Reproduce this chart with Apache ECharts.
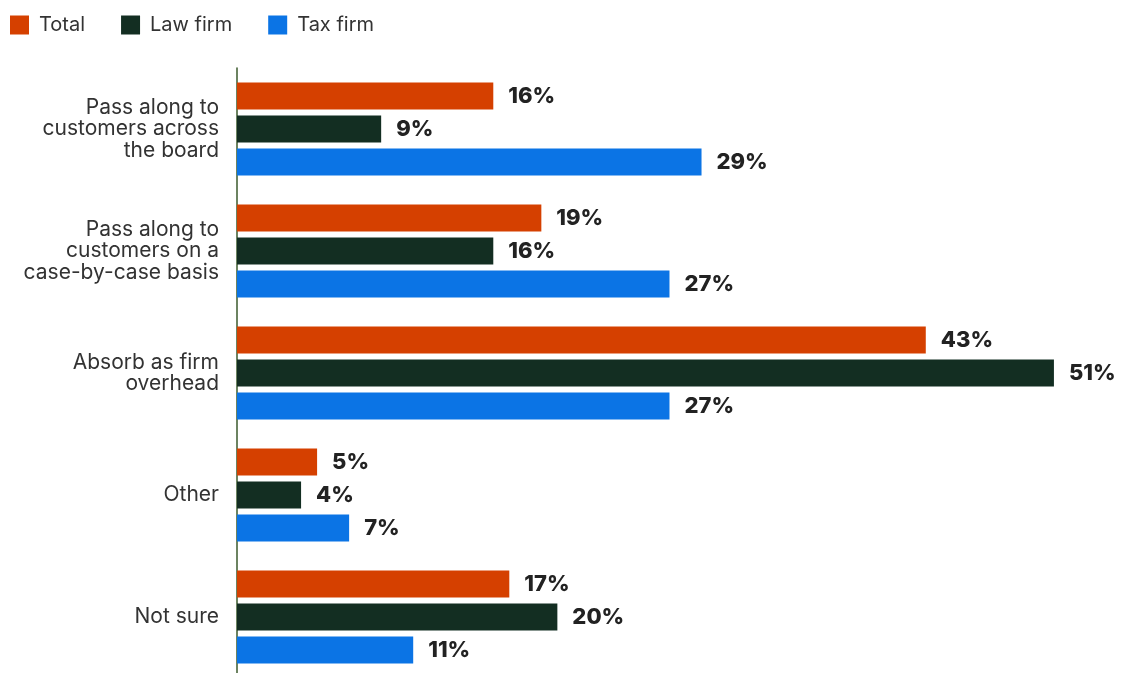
<!DOCTYPE html>
<html>
<head>
<meta charset="utf-8">
<script src="https://cdn.jsdelivr.net/npm/echarts@6/dist/echarts.min.js"></script>
<style>
html,body{margin:0;padding:0;background:#fff;}
#chart{width:1126px;height:673px;}
</style>
</head>
<body>
<div id="chart"></div>
<script>
const categories = [
  "Pass along to\ncustomers across\nthe board",
  "Pass along to\ncustomers on a\ncase-by-case basis",
  "Absorb as firm\noverhead",
  "Other",
  "Not sure"
];
const seriesNames = ["Total", "Law firm", "Tax firm"];
const totalValues = [16, 19, 43, 5, 17];
const lawValues = [9, 16, 51, 4, 20];
const taxValues = [29, 27, 27, 7, 11];
const colors = ["#D54000", "#132E22", "#0B74E5"];

const chart = echarts.init(document.getElementById('chart'));
const valuesList = [totalValues, lawValues, taxValues];
const series = seriesNames.map((name, i) => ({
  name: name,
  type: 'bar',
  data: valuesList[i],
  barWidth: 27,
  barGap: '22%',
  itemStyle: { color: colors[i] },
  label: {
    show: true,
    position: 'right',
    distance: 15,
    formatter: '{c}%',
    fontFamily: 'Inter',
    fontWeight: 800,
    fontSize: 22,
    color: '#222222'
  }
}));

chart.setOption({
  animation: false,
  legend: {
    left: 5,
    top: 10,
    itemWidth: 19,
    itemHeight: 19,
    itemGap: 36,
    icon: 'rect',
    textStyle: { fontFamily: 'Inter', fontSize: 20, color: '#333333', padding: [0, 0, 0, 5] },
    data: seriesNames
  },
  grid: { left: 237, right: 8, top: 68, height: 610, containLabel: false, outerBoundsMode: 'none' },
  xAxis: {
    type: 'value',
    min: 0,
    max: 55,
    show: false
  },
  yAxis: {
    type: 'category',
    inverse: true,
    data: categories,
    axisLine: { show: true, lineStyle: { color: '#3B5A2C', width: 1.5 } },
    axisTick: { show: false },
    axisLabel: {
      margin: 18,
      fontFamily: 'Inter',
      fontSize: 21,
      lineHeight: 21.5,
      color: '#333333',
      align: 'right'
    }
  },
  series: series
});
</script>
</body>
</html>
